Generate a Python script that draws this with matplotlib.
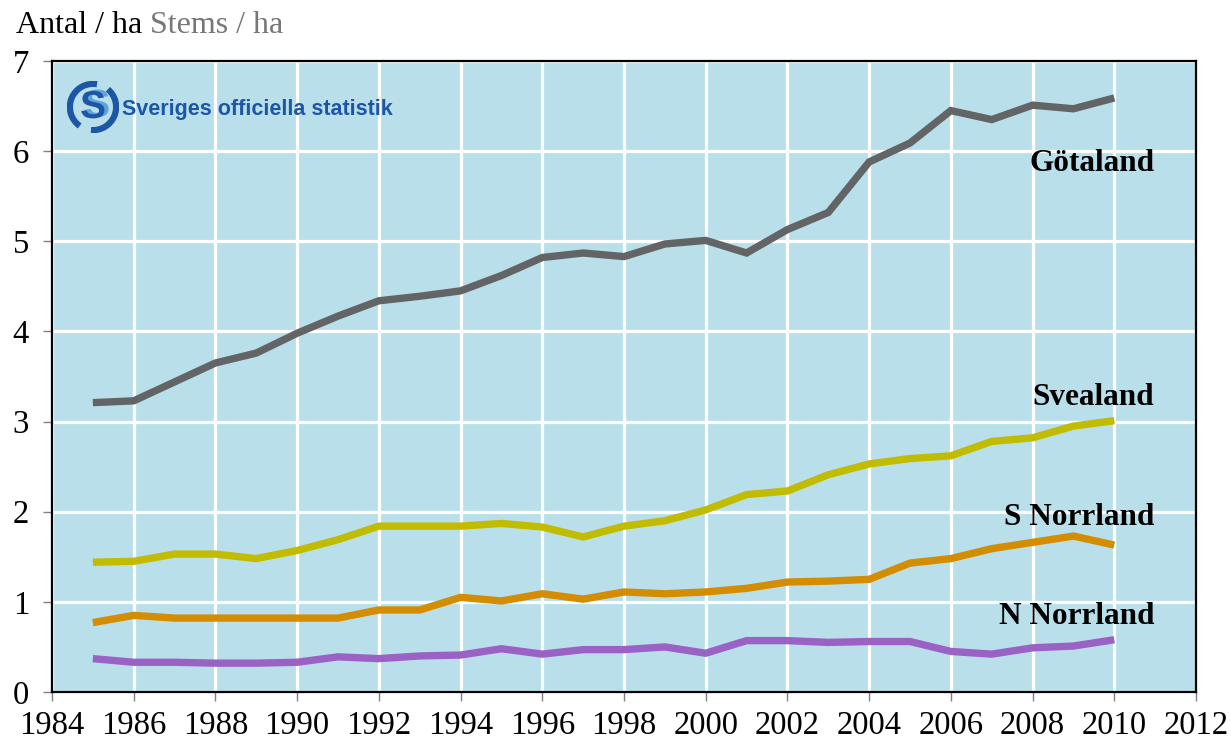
import matplotlib
matplotlib.use("Agg")
import matplotlib.pyplot as plt
import matplotlib.patheffects as pe
from matplotlib import font_manager
from matplotlib.patches import Arc

# data (stems per hectare)
years = list(range(1985, 2011))
gotaland = [3.21, 3.23, 3.44, 3.65, 3.76, 3.98, 4.17, 4.34, 4.39, 4.45, 4.62, 4.82, 4.87,
            4.83, 4.97, 5.01, 4.87, 5.13, 5.32, 5.88, 6.09, 6.45, 6.35, 6.51, 6.47, 6.59]
svealand = [1.44, 1.45, 1.53, 1.53, 1.48, 1.57, 1.69, 1.84, 1.84, 1.84, 1.87, 1.83, 1.72,
            1.84, 1.90, 2.02, 2.19, 2.23, 2.41, 2.53, 2.59, 2.62, 2.78, 2.82, 2.95, 3.01]
s_norrland = [0.77, 0.85, 0.82, 0.82, 0.82, 0.82, 0.82, 0.91, 0.91, 1.05, 1.01, 1.09, 1.03,
              1.11, 1.09, 1.11, 1.15, 1.22, 1.23, 1.25, 1.43, 1.48, 1.59, 1.66, 1.73, 1.63]
n_norrland = [0.37, 0.33, 0.33, 0.32, 0.32, 0.33, 0.39, 0.37, 0.40, 0.41, 0.48, 0.42, 0.47,
              0.47, 0.50, 0.43, 0.57, 0.57, 0.55, 0.56, 0.56, 0.45, 0.42, 0.49, 0.51, 0.58]
series_names = ["Götaland", "Svealand", "S Norrland", "N Norrland"]
x_ticks = list(range(1984, 2013, 2))
y_ticks = list(range(0, 8))

colors = ["#636466", "#C2BC00", "#D48D00", "#9B62C6"]
label_y = [5.78, 3.18, 1.85, 0.75]

plt.rcParams["font.family"] = ["Liberation Serif", "DejaVu Serif"]

W, H = 1231, 745
fig = plt.figure(figsize=(W / 100, H / 100), dpi=100)
ax = fig.add_axes([52 / W, 1 - 692 / H, (1196 - 52) / W, (692 - 61) / H])
ax.set_facecolor("#B9E0EA")

for vals, c in zip([gotaland, svealand, s_norrland, n_norrland], colors):
    ax.plot(years, vals, color=c, lw=5.3, solid_capstyle="butt", solid_joinstyle="miter", zorder=3)

for name, ly in zip(series_names, label_y):
    ax.text(2010.98, ly, name, ha="right", va="baseline", fontsize=22.5,
            fontweight="bold", color="black", zorder=4)

ax.set_xlim(1984, 2012)
ax.set_ylim(0, 7)
ax.set_xticks(x_ticks)
ax.set_yticks(y_ticks)
ax.grid(True, color="white", lw=2.3)
ax.set_axisbelow(True)
for sp in ax.spines.values():
    sp.set_color("black")
    sp.set_linewidth(1.6)
ax.tick_params(axis="both", direction="out", length=6.5, width=1, color="#808080",
               labelsize=23.5, labelcolor="black")
ax.tick_params(axis="x", pad=7)
ax.tick_params(axis="y", pad=10)

# axis title
fig.text(16 / W, 1 - 33 / H, "Antal / ha", fontsize=23, color="black", va="baseline")
fig.text(150 / W, 1 - 33 / H, "Stems / ha", fontsize=23, color="#777777", va="baseline")

# SOS logo
dark_blue = "#1E56A6"
light_blue = "#5DA4DC"
lax = fig.add_axes([67 / W, 1 - 133 / H, 52 / W, 52 / H])
lax.set_xlim(-1, 1)
lax.set_ylim(-1, 1)
lax.set_aspect("equal")
lax.axis("off")
lax.add_patch(Arc((0, 0), 1.78, 1.78, theta1=80, theta2=235, color=dark_blue, lw=4.5))
lax.add_patch(Arc((0, 0), 1.78, 1.78, theta1=265, theta2=50, color=dark_blue, lw=4.5))
lax.text(0.0, -0.04, "S", fontsize=28, fontweight="bold", color=dark_blue,
         ha="center", va="center", family="Liberation Sans",
         path_effects=[pe.SimplePatchShadow(offset=(3, 1), shadow_rgbFace=light_blue, alpha=1),
                       pe.Normal()])

names = {f.name for f in font_manager.fontManager.ttflist}
if "Liberation Sans Narrow" in names:
    logo_font, logo_size = "Liberation Sans Narrow", 18.5
else:
    logo_font, logo_size = "Liberation Sans", 15.5
fig.text(122 / W, 1 - 110 / H, "Sveriges officiella statistik", fontsize=logo_size,
         fontweight="bold", color=dark_blue, va="center", ha="left",
         family=[logo_font, "DejaVu Sans"])

fig.savefig("out.png", dpi=100)
